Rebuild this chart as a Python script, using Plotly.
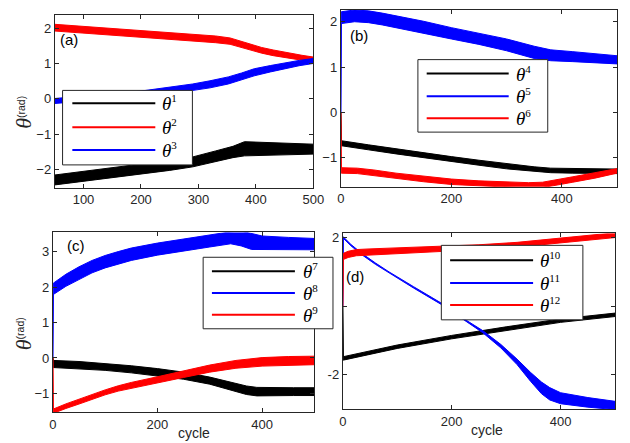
import plotly.graph_objects as go

W, H = 630, 443

# ---------------- data ----------------
# panel (a)
a_x1 = [50, 100, 150, 200, 250, 290, 330, 360, 380, 400, 450, 500]
theta1_mid = [-2.29, -2.18, -2.08, -1.98, -1.88, -1.78, -1.62, -1.50, -1.41, -1.41, -1.41, -1.42]
theta1_amp = [0.14, 0.14, 0.14, 0.14, 0.14, 0.14, 0.15, 0.16, 0.20, 0.19, 0.17, 0.14]

a_x2 = [50, 100, 150, 200, 250, 290, 330, 355, 370, 390, 410, 430, 455, 480, 500]
theta2_mid = [2.01, 1.95, 1.89, 1.83, 1.78, 1.73, 1.68, 1.63, 1.56, 1.46, 1.37, 1.30, 1.22, 1.16, 1.11]
theta2_amp = [0.095, 0.095, 0.095, 0.095, 0.095, 0.095, 0.095, 0.09, 0.09, 0.085, 0.08, 0.08, 0.075, 0.07, 0.07]

a_x3 = [50, 100, 150, 200, 262, 290, 320, 352, 375, 397, 425, 451, 475, 500]
theta3_mid = [-0.06, 0.0, 0.07, 0.14, 0.26, 0.33, 0.41, 0.52, 0.63, 0.75, 0.85, 0.94, 1.01, 1.07]
theta3_amp = [0.07, 0.07, 0.08, 0.08, 0.09, 0.09, 0.10, 0.10, 0.10, 0.10, 0.09, 0.08, 0.075, 0.07]

# panel (b)
b_x4 = [0, 1, 50, 100, 150, 200, 250, 300, 350, 380, 420, 460, 500]
theta4_mid = [0, -0.68, -0.77, -0.86, -0.95, -1.03, -1.11, -1.19, -1.25, -1.28, -1.29, -1.30, -1.30]
theta4_amp = [0, 0.055, 0.055, 0.055, 0.055, 0.055, 0.055, 0.055, 0.05, 0.05, 0.05, 0.05, 0.05]

b_x5 = [0, 1, 25, 50, 75, 100, 150, 200, 250, 300, 350, 380, 420, 460, 500]
theta5_lo = [0, 1.96, 2.00, 1.98, 1.93, 1.87, 1.75, 1.62, 1.50, 1.36, 1.19, 1.14, 1.12, 1.10, 1.07]
theta5_hi = [0, 2.22, 2.26, 2.24, 2.19, 2.13, 2.01, 1.87, 1.74, 1.62, 1.46, 1.38, 1.34, 1.30, 1.25]

b_x6 = [0, 1, 30, 60, 100, 150, 200, 250, 300, 340, 365, 385, 420, 460, 500]
theta6_mid = [0, -1.28, -1.29, -1.33, -1.40, -1.47, -1.53, -1.57, -1.59, -1.61, -1.60, -1.56, -1.48, -1.39, -1.29]
theta6_amp = [0, 0.06, 0.06, 0.06, 0.06, 0.06, 0.06, 0.06, 0.06, 0.06, 0.06, 0.06, 0.06, 0.06, 0.05]

# panel (c)
c_x7 = [0, 1, 50, 100, 150, 200, 250, 300, 340, 370, 390, 420, 460, 500]
theta7_mid = [0, -0.17, -0.20, -0.25, -0.32, -0.40, -0.50, -0.64, -0.79, -0.91, -0.95, -0.95, -0.95, -0.95]
theta7_amp = [0, 0.10, 0.10, 0.10, 0.10, 0.10, 0.10, 0.10, 0.11, 0.12, 0.12, 0.11, 0.11, 0.11]

c_x8 = [0, 1, 25, 50, 75, 100, 125, 150, 200, 250, 300, 340, 360, 380, 400, 450, 500]
theta8_lo = [0, 1.79, 2.02, 2.22, 2.40, 2.54, 2.65, 2.75, 2.90, 3.02, 3.13, 3.22, 3.16, 3.06, 3.05, 3.05, 3.05]
theta8_hi = [0, 2.11, 2.36, 2.57, 2.75, 2.89, 3.00, 3.10, 3.24, 3.36, 3.47, 3.56, 3.58, 3.52, 3.44, 3.40, 3.37]

c_x9 = [0, 1, 25, 50, 75, 100, 125, 150, 200, 250, 300, 350, 400, 450, 500]
theta9_mid = [0, -1.50, -1.36, -1.23, -1.09, -0.97, -0.86, -0.77, -0.62, -0.46, -0.30, -0.18, -0.11, -0.08, -0.07]
theta9_amp = [0, 0.06, 0.065, 0.07, 0.07, 0.07, 0.075, 0.08, 0.09, 0.09, 0.10, 0.11, 0.12, 0.12, 0.12]

# panel (d)
d_x10 = [0, 1, 100, 200, 300, 400, 500]
theta10_mid = [0, -1.52, -1.18, -0.90, -0.65, -0.42, -0.25]
theta10_amp = [0, 0.05, 0.05, 0.05, 0.05, 0.05, 0.05]

d_x11 = [0, 1, 15, 35, 60, 85, 130, 180, 220, 257, 290, 320, 345, 365, 380, 400, 450, 500]
theta11_mid = [0, 2.0, 1.78, 1.52, 1.24, 0.98, 0.55, 0.08, -0.36, -0.74, -1.16, -1.62, -2.06, -2.38, -2.55, -2.68, -2.80, -2.89]
theta11_amp = [0, 0.02, 0.02, 0.02, 0.02, 0.02, 0.02, 0.02, 0.02, 0.03, 0.05, 0.08, 0.13, 0.17, 0.18, 0.16, 0.14, 0.12]

d_x12 = [0, 1, 10, 25, 50, 80, 120, 170, 250, 320, 400, 450, 500]
theta12_mid = [0, 1.45, 1.51, 1.56, 1.59, 1.61, 1.63, 1.66, 1.72, 1.79, 1.91, 1.99, 2.07]
theta12_amp = [0, 0.09, 0.09, 0.09, 0.08, 0.08, 0.08, 0.07, 0.07, 0.07, 0.07, 0.07, 0.07]

# tick labels (panel d's "0" is hidden under the legend of panel c)
d_yticks = [-2, 0, 2]
d_yticklabels = ["-2", "", "2"]

legend_a = ["1", "2", "3"]
legend_b = ["4", "5", "6"]
legend_c = ["7", "8", "9"]
legend_d = ["10", "11", "12"]

BLACK, RED, BLUE = "#000000", "#ff0000", "#0000ff"
AX = "#262626"


def fx(px):
    return px / W


def fy(py):
    return 1 - py / H


fig = go.Figure()


def band(x, lo, hi, color, xa, ya):
    fig.add_trace(go.Scatter(
        x=list(x) + list(x)[::-1], y=list(hi) + list(lo)[::-1],
        mode="lines", fill="toself", fillcolor=color,
        line=dict(color=color, width=1), xaxis=xa, yaxis=ya,
        hoverinfo="skip", showlegend=False))


def band_mid(x, mid, amp, color, xa, ya):
    lo = [m - a for m, a in zip(mid, amp)]
    hi = [m + a for m, a in zip(mid, amp)]
    band(x, lo, hi, color, xa, ya)


band_mid(a_x1, theta1_mid, theta1_amp, BLACK, "x", "y")
band_mid(a_x2, theta2_mid, theta2_amp, RED, "x", "y")
band_mid(a_x3, theta3_mid, theta3_amp, BLUE, "x", "y")

band_mid(b_x4, theta4_mid, theta4_amp, BLACK, "x2", "y2")
band(b_x5, theta5_lo, theta5_hi, BLUE, "x2", "y2")
band_mid(b_x6, theta6_mid, theta6_amp, RED, "x2", "y2")

band_mid(c_x7, theta7_mid, theta7_amp, BLACK, "x3", "y3")
band(c_x8, theta8_lo, theta8_hi, BLUE, "x3", "y3")
band_mid(c_x9, theta9_mid, theta9_amp, RED, "x3", "y3")

band_mid(d_x10, theta10_mid, theta10_amp, BLACK, "x4", "y4")
band_mid(d_x11, theta11_mid, theta11_amp, BLUE, "x4", "y4")
band_mid(d_x12, theta12_mid, theta12_amp, RED, "x4", "y4")

tickfont = dict(family="Liberation Sans, Arial", size=13, color=AX)
common = dict(showgrid=False, zeroline=False, showline=True, linecolor=AX, linewidth=1,
              mirror="ticks", ticks="inside", ticklen=4, tickcolor=AX, tickfont=tickfont)

fig.update_layout(
    width=W, height=H, margin=dict(l=0, r=0, t=0, b=0),
    paper_bgcolor="white", plot_bgcolor="white", showlegend=False,
    xaxis=dict(domain=[fx(52), fx(317)], range=[50, 500], tickvals=[100, 200, 300, 400, 500], anchor="y", **common),
    yaxis=dict(domain=[fy(186), fy(12)], range=[-2.51, 2.37], tickvals=[-2, -1, 0, 1, 2], anchor="x", **common),
    xaxis2=dict(domain=[fx(345), fx(628)], range=[0, 500], tickvals=[0, 200, 400], anchor="y2", **common),
    yaxis2=dict(domain=[fy(185), fy(7)], range=[-1.64, 2.26], tickvals=[-1, 0, 1, 2], anchor="x2", **common),
    xaxis3=dict(domain=[fx(50), fx(318)], range=[0, 500], tickvals=[0, 200, 400], anchor="y3", **common),
    yaxis3=dict(domain=[fy(412), fy(231)], range=[-1.53, 3.54], tickvals=[-1, 0, 1, 2, 3], anchor="x3", **common),
    xaxis4=dict(domain=[fx(347), fx(626)], range=[0, 500], tickvals=[0, 200, 400], anchor="y4", **common),
    yaxis4=dict(domain=[fy(409), fy(232)], range=[-3.0, 2.12], tickvals=d_yticks, ticktext=d_yticklabels,
                anchor="x4", **common),
)

shapes = []
annotations = []

# panel letters
for txt, px, py in [("(a)", 55, 37), ("(b)", 352, 33), ("(c)", 62, 244), ("(d)", 348, 275)]:
    annotations.append(dict(x=fx(px), y=fy(py), xref="paper", yref="paper", text=txt,
                            showarrow=False, xanchor="left", yanchor="middle",
                            font=dict(family="Liberation Sans, Arial", size=15, color="#000")))

# y titles
for py in [110, 333]:
    annotations.append(dict(x=fx(20), y=fy(py), xref="paper", yref="paper",
                            text="<span style='font-family:Liberation Serif;font-size:22px'><i>θ</i></span><sup>(rad)</sup>",
                            textangle=-90, showarrow=False, xanchor="center", yanchor="middle",
                            font=dict(family="Liberation Sans, Arial", size=15, color=AX)))

# x titles
for px, py in [(195, 433), (495, 430)]:
    annotations.append(dict(x=fx(px), y=fy(py), xref="paper", yref="paper", text="cycle",
                            showarrow=False, xanchor="center", yanchor="middle",
                            font=dict(family="Liberation Sans, Arial", size=14, color=AX)))


def legend(box, line_x, text_x, rows, labels, colors):
    x0, y0, x1, y1 = box
    shapes.append(dict(type="rect", xref="paper", yref="paper", layer="above",
                       x0=fx(x0), x1=fx(x1), y0=fy(y1), y1=fy(y0),
                       fillcolor="white", line=dict(color=AX, width=1)))
    for r, lab, col in zip(rows, labels, colors):
        shapes.append(dict(type="line", xref="paper", yref="paper", layer="above",
                           x0=fx(line_x[0]), x1=fx(line_x[1]), y0=fy(r), y1=fy(r),
                           line=dict(color=col, width=2)))
        annotations.append(dict(x=fx(text_x), y=fy(r), xref="paper", yref="paper",
                                text="<i>θ</i><sup><span style='font-size:11px'>" + lab + "</span></sup>",
                                showarrow=False, xanchor="left", yanchor="middle",
                                font=dict(family="Liberation Serif, DejaVu Serif", size=19, color="#000")))


legend((60, 88, 193, 163), (70, 155), 160, [101, 125, 148], legend_a, [BLACK, RED, BLUE])
legend((424, 57, 557, 130), (433, 517), 522, [71, 94, 116], legend_b, [BLACK, BLUE, RED])
legend((204, 256, 337, 328), (213, 298), 304, [270, 292, 314], legend_c, [BLACK, BLUE, RED])
legend((448, 244, 593, 319), (457, 542), 547, [259, 282, 304], legend_d, [BLACK, BLUE, RED])

fig.update_layout(shapes=shapes, annotations=annotations)
fig.write_html("out.html")
